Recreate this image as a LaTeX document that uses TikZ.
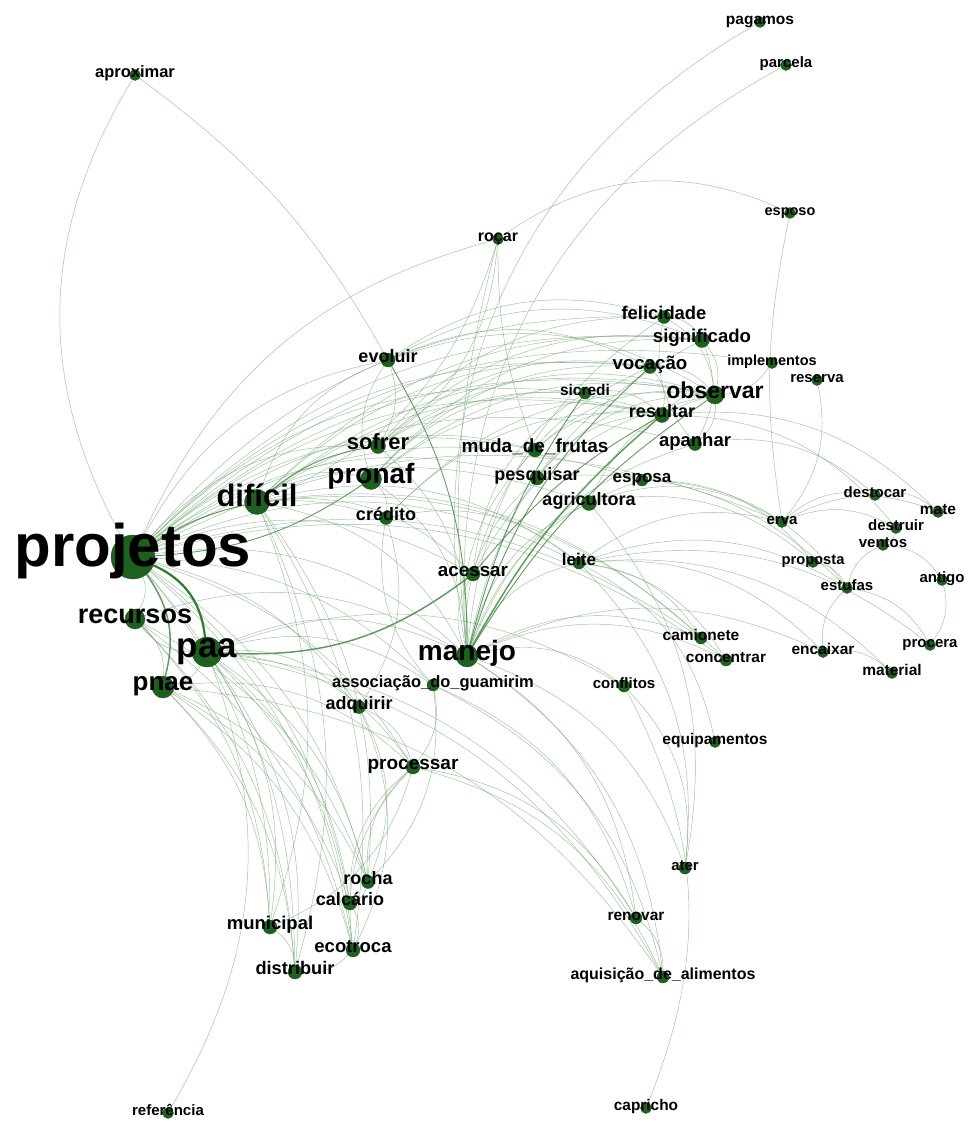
\documentclass[tikz,border=0pt]{standalone}
\usepackage{fontspec}
\setmainfont{Liberation Sans}
\usepackage{tikz}
\usetikzlibrary{backgrounds}

\definecolor{vtxgreen}{RGB}{30,96,30}
\definecolor{lnklight}{RGB}{115,165,115}
\definecolor{lnkmid}{RGB}{70,140,70}
\definecolor{lnkdark}{RGB}{45,125,45}

\tikzset{
	dot/.style={circle,fill=vtxgreen,draw=vtxgreen!80!black,line width=0.3pt,inner sep=0pt},
	lbl/.style={text=black,inner sep=0pt,anchor=base},
	lnk/.style={draw=lnklight,line width=0.45pt,opacity=0.7,every edge/.append style={bend left}},
	lnkM/.style={draw=lnkmid,line width=0.9pt,opacity=0.85,every edge/.append style={bend left}},
	lnkT/.style={draw=lnkdark,line width=2.2pt}
}

\begin{document}
\begin{tikzpicture}[x=1pt,y=-1pt,bend angle=25]
		\useasboundingbox (0,0) rectangle (967,1124);
		% words: name/x/y/size/font/text
		\foreach \n/\x/\y/\d/\f/\t in {
			aproximar/135/75/11/16.5/aproximar, pagamos/760/22/11/15.5/pagamos,
			parcela/786/65/11/15/parcela, esposo/790/213/11/14.5/esposo,
			rocar/498/239/11/16/roçar, felicidade/664/317/13/18.4/felicidade,
			significado/702/340/15/18.6/significado, evoluir/388/360/14/18/evoluir,
			vocacao/650/367/13/18.7/vocação, implementos/772/363/11/14.5/implementos,
			reserva/817/380/11/15/reserva, observar/715/395/18/23/observar,
			sicredi/585/393/12/15.5/sicredi, resultar/662/415/15/18/resultar,
			sofrer/378/446/15/22/sofrer, muda/535/450/14/19/muda\_de\_frutas,
			apanhar/695/444/13/18.5/apanhar, pronaf/371/479/21/28/pronaf,
			dificil/257/502/25/31/difícil, pesquisar/537/478/14/18/pesquisar,
			esposa/642/480/12/17/esposa, agricultora/589/503/15/18/agricultora,
			credito/386/518/13/18/crédito, destocar/875/495/11/15/destocar,
			mate/938/512/11/15.5/mate, erva/782/522/11/15/erva,
			destruir/896/528/11/15/destruir, ventos/883/545/11/15/ventos,
			projetos/133/557/44/60/projetos, acessar/473/574/14/18.8/acessar,
			leite/579/563/12/17/leite, proposta/813/562/11/14.7/proposta,
			estufas/847/588/11/15/estufas, antigo/942/580/11/15/antigo,
			recursos/135/619/20/27/recursos, paa/207/652/30/35/paa,
			camionete/701/638/12/15.5/camionete, concentrar/726/660/12/15.5/concentrar,
			encaixar/823/652/11/15.5/encaixar, procera/930/645/11/15/procera,
			material/892/673/11/15.5/material, manejo/467/656/22/28/manejo,
			pnae/163/687/22/26/pnae, assoc/433/685/12/16.5/associação\_do\_guamirim,
			conflitos/624/686/12/15/conflitos, adquirir/359/707/13/18/adquirir,
			equipamentos/715/742/11/15.5/equipamentos, processar/413/767/14/19/processar,
			ater/685/868/12/15/ater, rocha/368/882/13/18/rocha,
			calcario/350/903/14/18/calcário, municipal/270/927/14/18.5/municipal,
			renovar/636/918/12/15.5/renovar, ecotroca/353/950/14/18.5/ecotroca,
			distribuir/295/972/14/18.2/distribuir, aquisicao/663/977/12/16/aquisição\_de\_alimentos,
			referencia/168/1113/11/15/referência, capricho/646/1108/11/15.4/capricho}
		{
			\node[dot,minimum size=\d] (\n) at (\x,\y) {};
			\node[lbl,font=\bfseries\fontsize{\f}{\f}\selectfont] (\n-t) at ([yshift={-0.15pt*\f}]\n.center) {\t};
		}
		%
		\begin{pgfonlayer}{background}
		\fill[white] (0,0) rectangle (967,1124);
		% light links
		\path[lnk]
			(projetos) edge (sofrer) edge (evoluir) edge (credito) edge (acessar) edge (muda)
			edge (pesquisar) edge (agricultora) edge (resultar) edge (observar) edge (vocacao)
			edge (significado) edge (felicidade) edge (sicredi) edge (apanhar) edge (leite)
			edge (esposa) edge (erva) edge (implementos) edge (manejo) edge (rocar)
			edge[bend left=30] (aproximar) edge (camionete) edge (concentrar)
			edge[bend left=20] (municipal) edge[bend left=20] (distribuir) edge[bend left=20] (rocha)
			edge[bend left=20] (calcario) edge[bend left=20] (ecotroca) edge[bend left=20] (processar)
			edge[bend left=20] (adquirir) edge[bend left=20] (assoc) edge (recursos)
			(dificil) edge (pronaf) edge (evoluir) edge (muda) edge (resultar) edge (observar)
			edge (vocacao) edge (significado) edge (manejo) edge (acessar) edge (camionete)
			edge (concentrar) edge[bend left=20] (municipal) edge[bend left=20] (distribuir)
			edge[bend left=20] (ecotroca) edge[bend left=20] (rocha) edge (leite)
			(paa) edge[bend left=20] (municipal) edge[bend left=20] (distribuir) edge[bend left=20] (rocha)
			edge[bend left=20] (calcario) edge[bend left=20] (ecotroca) edge (processar) edge (adquirir)
			edge (assoc) edge (aquisicao) edge (renovar) edge (manejo) edge (pnae) edge (recursos)
			edge (referencia) edge (conflitos)
			(pnae) edge[bend left=20] (municipal) edge[bend left=20] (distribuir) edge[bend left=20] (calcario)
			edge[bend left=20] (ecotroca) edge[bend left=20] (rocha) edge (aquisicao) edge (processar)
			(recursos) edge[bend left=20] (municipal) edge[bend left=20] (distribuir)
			edge[bend left=20] (ecotroca) edge[bend left=20] (rocha) edge (pnae) edge (manejo)
			(manejo) edge (muda) edge (pesquisar) edge (agricultora) edge (acessar) edge (significado)
			edge (felicidade) edge (apanhar) edge[bend left=35] (pagamos) edge[bend left=33] (parcela)
			edge[bend left=10] (rocar)
			edge (leite) edge (esposa) edge (camionete) edge (concentrar) edge (conflitos)
			edge (renovar) edge (aquisicao) edge (ater) edge (encaixar)
			(pronaf) edge (manejo) edge (observar) edge (resultar) edge (sicredi) edge (vocacao)
			edge (credito) edge (evoluir) edge (significado)
			(sofrer) edge (manejo) edge (vocacao) edge (observar) edge (resultar) edge (significado)
			edge (felicidade)
			(evoluir) edge (vocacao) edge (observar) edge (felicidade) edge (significado) edge (sofrer)
			(credito) edge (resultar) edge (observar) edge (leite) edge[bend right] (assoc) edge (adquirir)
			(significado) edge (observar) edge (apanhar) (felicidade) edge (observar) edge (significado)
			(vocacao) edge (observar) edge (resultar) (observar) edge (apanhar) (resultar) edge (observar)
			(sicredi) edge (resultar) (felicidade) edge[bend right] (apanhar) (implementos) edge (observar)
			(muda) edge (observar) edge (resultar) (pesquisar) edge (resultar) edge (observar)
			(agricultora) edge (observar) (acessar) edge (observar) edge (sicredi) edge (vocacao)
			(leite) edge (erva) edge (encaixar) edge (camionete) edge (concentrar) edge (material)
			edge (equipamentos) edge (ater) edge (estufas) edge (procera)
			(agricultora) edge (erva) edge (proposta) edge (ater) (esposa) edge (estufas) edge (proposta)
			(resultar) edge (destruir) edge (mate) (apanhar) edge (destocar) (pesquisar) edge (estufas)
			(erva) edge (destocar) edge (mate) edge (destruir) (destocar) edge (mate)
			(destruir) edge (ventos) (estufas) edge (ventos) (proposta) edge (estufas)
			(estufas) edge[bend right] (encaixar) edge (procera) (ventos) edge (antigo)
			(antigo) edge (procera) (encaixar) edge (material) (reserva) edge (erva)
			(erva) edge[bend left=10] (esposo) (rocar) edge[bend left=30] (esposo)
			(aproximar) edge[bend left=12] (evoluir)
			(rocar) edge (sofrer) edge (dificil) (muda) edge[bend left=10] (rocar)
			(processar) edge[bend right] (rocha) edge[bend right] (calcario) edge[bend right] (ecotroca)
			edge (municipal) edge (renovar) edge (aquisicao)
			(adquirir) edge (processar) edge (rocha) edge (ecotroca)
			(assoc) edge (processar) edge (rocha) edge (renovar) edge (aquisicao)
			(conflitos) edge (capricho) edge (ater)
			(municipal) edge (distribuir) (rocha) edge (calcario) (calcario) edge (ecotroca)
			(ecotroca) edge (distribuir) (renovar) edge (aquisicao);
		% heavier links
		\path[lnkM]
			(manejo) edge[bend left=12] (observar) edge[bend left=10] (sicredi) edge[bend left=15] (vocacao)
			(projetos) edge[bend right=15] (pronaf) edge[bend left=10] (dificil)
			(evoluir) edge[bend left=15] (manejo)
			(acessar) edge[bend left=10] (resultar)
			(dificil) edge[bend left=15] (sofrer);
		\path[lnkM,line width=1.5pt]
			(manejo) edge[bend left=10] (resultar)
			(paa) edge[bend right=20] (acessar)
			(projetos) edge[bend left=25] (pnae);
		\path[lnkT]
			(projetos) edge[bend left=30] (paa);
		\end{pgfonlayer}
\end{tikzpicture}
\end{document}
